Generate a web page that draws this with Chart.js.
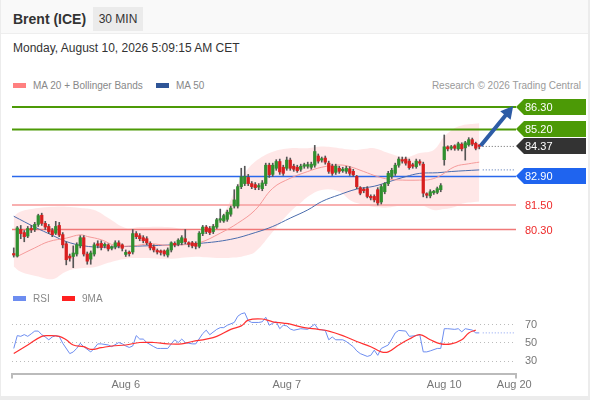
<!DOCTYPE html>
<html>
<head>
<meta charset="utf-8">
<script src="https://cdn.jsdelivr.net/npm/chart.js@4.4.1/dist/chart.umd.min.js"></script>
<style>
  html, body { margin: 0; padding: 0; }
  body { width: 590px; height: 400px; background: #ececec; position: relative; overflow: hidden;
         font-family: 'Liberation Sans', Arial, sans-serif; }
  #card { position: absolute; left: 1px; top: 0; width: 587px; height: 396px; background: #fff; }
  #head { position: absolute; left: 1px; top: 0; width: 587px; height: 33px; background: #f9f9f9; border-bottom: 1px solid #eee; }
  #title { position: absolute; left: 12px; top: 11px; line-height: 16px; font-weight: bold; font-size: 14px; color: #333; }
  #tf { position: absolute; left: 92px; top: 7px; width: 50px; height: 24px; line-height: 24px; text-align: center;
        background: #ebebeb; font-size: 12px; color: #333; }
  #date { position: absolute; left: 13px; top: 41px; line-height: 14px; font-size: 12px; color: #333; }
  .leg { position: absolute; font-size: 10px; line-height: 12px; color: #888; white-space: nowrap; }
  .sw { display: inline-block; width: 13px; height: 5px; margin-right: 7px; position: relative; top: -1px; }
  canvas { position: absolute; left: 0; }
</style>
</head>
<body>
<div id="card"></div>
<div id="head"><span id="title">Brent (ICE)</span><span id="tf">30 MIN</span></div>
<div id="date">Monday, August 10, 2026 5:09:15 AM CET</div>
<div class="leg" style="left:13px; top:80px"><span class="sw" style="background:#ff8080"></span>MA 20 + Bollinger Bands</div>
<div class="leg" style="left:156px; top:80px"><span class="sw" style="background:#2f5597"></span>MA 50</div>
<div class="leg" style="right:9px; top:80px; color:#9a9a9a">Research © 2026 Trading Central</div>
<canvas id="price" width="590" height="190" style="top:95px"></canvas>
<canvas id="rsi" width="590" height="98" style="top:300px"></canvas>
<div class="leg" style="left:13px; top:293px"><span class="sw" style="background:#6d8df0"></span>RSI</div>
<div class="leg" style="left:62px; top:293px"><span class="sw" style="background:#ff2020"></span>9MA</div>

<script>
// 30 min candles, Aug 5 evening .. Aug 10 05:00
const open = [79.12,79.00,80.30,80.15,79.98,80.35,80.30,80.55,81.00,80.60,80.45,80.25,80.12,80.50,80.05,79.60,79.00,78.98,79.10,79.50,
  79.90,79.10,78.85,79.10,79.60,79.62,79.50,79.55,79.38,79.45,79.65,79.55,79.08,79.15,79.20,80.10,80.00,79.90,79.85,79.62,
  79.45,79.25,79.20,79.25,79.05,79.30,79.62,79.58,79.65,79.85,79.65,79.65,79.62,79.48,80.10,80.42,80.35,80.20,80.42,80.76,
  80.72,80.80,81.05,81.45,81.45,82.40,82.55,82.85,82.55,82.50,82.38,82.30,82.55,83.45,83.00,83.30,83.63,83.35,83.30,83.70,
  83.40,83.35,83.25,83.40,83.40,83.35,83.45,83.90,83.70,83.80,83.55,83.40,83.10,83.30,83.18,83.15,83.28,83.15,82.90,82.35,
  82.25,82.30,81.90,81.92,82.25,81.65,82.15,82.55,82.90,83.05,83.45,83.72,83.75,83.65,83.45,83.38,83.62,83.50,82.00,81.95,
  82.10,82.12,82.25,83.72,84.35,84.28,84.40,84.25,84.48,84.30,84.45,84.70,84.52,84.40]
const high = [79.40,80.45,80.50,80.25,80.45,80.50,80.65,81.05,81.10,80.70,80.55,80.35,80.70,80.65,80.15,79.70,79.10,79.50,79.65,80.00,
  80.00,79.20,79.25,79.65,79.75,79.75,79.65,79.60,79.50,79.75,79.75,79.60,79.30,79.25,80.30,80.20,80.10,80.00,79.95,79.70,
  79.55,79.35,79.30,79.30,79.40,79.70,79.70,79.85,80.00,80.30,79.70,79.72,79.70,80.20,80.50,80.50,80.45,80.55,80.85,81.30,
  81.05,81.25,81.45,82.25,82.50,83.30,83.40,83.00,82.65,82.60,82.55,82.70,83.55,83.55,83.55,83.72,83.75,83.45,83.85,83.80,
  83.50,83.45,83.50,83.55,83.60,83.60,84.42,84.00,83.85,83.90,83.65,83.50,83.50,83.40,83.35,83.40,83.38,83.25,82.95,82.40,
  82.35,82.40,82.00,82.00,82.35,82.50,82.60,83.15,83.30,83.55,83.85,83.85,83.85,83.75,83.55,83.75,83.72,83.60,82.10,82.25,
  82.22,82.38,82.55,84.93,84.40,84.42,84.45,84.58,84.55,84.62,84.80,84.78,84.58,84.45]
const low = [78.95,78.95,79.85,79.70,79.90,80.15,80.20,80.45,80.50,80.30,80.10,79.95,80.05,79.95,79.40,78.57,78.75,78.43,79.00,79.40,
  79.00,78.60,78.60,79.00,79.40,79.30,79.40,79.25,79.30,79.35,79.40,79.25,78.98,79.00,79.10,79.85,79.75,79.65,79.55,79.30,
  79.20,79.10,79.05,79.00,78.95,79.20,79.45,79.50,79.55,79.60,79.45,79.40,79.35,79.40,80.00,80.10,80.05,80.10,80.35,80.65,
  80.65,80.70,80.95,81.35,81.35,82.30,82.45,82.45,82.30,82.25,82.25,82.20,82.45,82.85,82.90,83.20,83.00,82.95,83.20,83.20,
  83.15,83.10,83.15,83.30,83.30,83.25,83.35,83.55,83.60,83.50,83.05,82.95,83.00,83.05,83.10,83.05,82.95,82.90,82.30,82.00,
  82.10,81.85,81.75,81.65,81.50,81.55,82.05,82.45,82.80,82.95,83.35,83.55,83.45,83.25,83.30,83.30,83.45,81.90,81.85,81.85,
  82.02,82.05,82.15,83.45,84.15,84.20,84.18,84.18,84.15,83.70,84.38,84.40,84.20,84.25]
const close = [79.05,80.38,80.10,79.95,80.35,80.28,80.55,80.98,80.60,80.42,80.20,80.05,80.45,80.03,79.55,78.82,78.90,79.15,79.55,79.90,
  79.10,78.75,79.15,79.55,79.52,79.42,79.55,79.35,79.42,79.65,79.50,79.38,79.18,79.12,80.10,79.95,79.85,79.75,79.65,79.40,
  79.30,79.20,79.18,79.10,79.30,79.65,79.55,79.78,79.90,79.70,79.58,79.50,79.48,80.12,80.42,80.20,80.15,80.45,80.78,80.82,
  80.98,81.15,81.35,81.75,82.40,82.88,82.90,82.55,82.40,82.35,82.42,82.58,83.45,82.98,83.45,83.63,83.12,83.05,83.70,83.30,
  83.25,83.18,83.40,83.45,83.48,83.50,84.12,83.65,83.75,83.60,83.15,83.05,83.40,83.15,83.22,83.30,83.05,82.98,82.40,82.08,
  82.20,81.92,81.85,81.75,81.60,82.40,82.55,83.05,83.20,83.45,83.75,83.65,83.55,83.33,83.40,83.65,83.55,82.08,81.98,82.15,
  82.14,82.30,82.45,84.35,84.25,84.32,84.28,84.50,84.25,84.55,84.70,84.48,84.28,84.37]

const ma20Idx = [1,6,10,15,19,21,25,29,34,39,44,48,53,59,64,69,74,79,84,88,93,96,100,104,107,111,116,119,122,126,130,133]
const ma20Val = [78.98,79.40,79.71,79.88,80.04,79.96,79.80,79.52,79.50,79.60,79.52,79.55,79.65,80.12,80.61,81.26,82.32,82.81,
  83.14,83.35,83.46,83.38,83.14,82.89,82.77,82.72,82.72,82.75,82.95,83.38,83.52,83.60]
const ma50Idx = [0,6,11,15,20,25,34,44,53,62,69,74,79,84,88,93,98,103,107,112,116,121,125,133]
const ma50Val = [80.95,80.42,80.02,79.71,79.50,79.44,79.48,79.54,79.62,79.82,80.15,80.45,80.86,81.26,81.67,82.00,82.28,82.42,
  82.63,82.89,83.05,83.08,83.14,83.22]
const bbIdx = [0,2,7,11,15,19,23,27,32,36,44,52,55,59,62,64,66,69,74,79,82,84,88,93,96,98,100,103,107,112,116,120,123,126,128,133]
const bbUpper = [80.94,81.18,81.35,81.41,81.42,81.36,81.26,80.87,80.38,80.42,80.42,80.24,80.37,80.87,81.75,82.53,83.06,83.63,
  84.11,84.28,84.28,84.28,84.36,84.28,84.22,84.20,84.24,84.28,84.05,83.85,84.05,84.20,84.85,85.27,85.40,85.50]
const bbLower = [78.49,78.23,78.00,77.87,78.25,78.40,78.45,78.67,78.87,78.90,78.87,78.97,78.94,78.90,78.92,78.94,79.01,79.21,
  80.19,81.17,81.61,81.91,82.24,82.16,81.75,81.60,81.51,81.40,81.38,81.51,81.51,81.26,81.30,81.40,81.56,81.67]

const rsiIdx = [0,1,2,3,4,5,6,7,8,9,10,11,12,13,14,16,17,18,19,20,22,23,24,25,27,28,30,31,32,33,34,35,36,37,38,40,41,42,44,45,46,
  47,48,49,50,51,52,54,55,56,58,59,60,61,63,64,65,66,67,68,70,71,72,73,74,75,76,77,78,79,80,82,84,86,87,89,90,91,92,94,95,97,98,99,
  101,102,103,104,105,107,108,109,110,112,113,115,116,117,118,119,121,122,123,124,126,127,128,129,131,132,133]
const rsiVal = [43.9,58.0,57.2,59.1,57.2,60.0,63.0,63.0,59.0,56.5,53.4,56.5,58.0,57.0,49.6,38.2,40.0,44.0,49.6,45.8,40.0,44.0,
  48.9,48.9,47.7,45.8,50.4,49.0,46.6,45.0,46.6,58.0,54.2,54.2,50.4,45.8,43.9,43.9,43.9,48.9,53.4,50.4,54.2,50.4,49.6,48.9,48.9,
  60.3,64.0,59.0,64.9,66.8,66.8,69.4,72.5,79.3,82.0,83.1,74.4,72.5,72.5,73.2,78.2,69.4,71.7,73.2,65.6,69.4,68.7,65.3,63.9,65.6,
  64.9,70.6,64.9,63.7,53.4,56.5,53.4,53.4,51.5,45.8,41.2,38.2,35.1,36.3,42.0,36.3,43.9,47.7,54.2,61.0,63.7,63.0,57.2,58.0,59.1,
  40.1,40.1,41.2,43.9,43.9,65.6,65.6,64.9,65.6,62.2,65.6,64.1,61.0,61.0]
const rsiMaIdx = [0,4,8,10,13,15,17,20,22,25,28,32,36,40,44,48,51,55,58,62,65,67,71,74,77,79,83,87,90,94,98,102,105,107,110,113,
  116,119,122,125,128,130,132]
const rsiMaVal = [38.2,47.7,57.2,58.0,57.2,53.4,47.7,45.8,42.8,44.7,46.6,47.7,50.4,50.4,48.9,48.9,51.5,54.2,57.2,64.9,68.7,75.1,
  76.3,73.2,71.7,70.6,66.8,64.9,63.0,58.0,51.5,45.8,40.1,40.1,47.7,54.2,59.1,53.4,48.9,48.9,53.4,61.0,64.1]

const levelVal = [86.30, 85.20, 82.90, 81.50, 80.30]
const lastPrice = 84.37
const rsiTicks = [30, 50, 70]
const tickIdx = [32, 78, 123, 143]
const tickText = ['Aug 6', 'Aug 7', 'Aug 10', 'Aug 20']
const arrowFrom = [133.4, 84.40]
const arrowTo = [142.7, 86.35]

const levelStyle = [
  { line: '#4c9a06', width: 2, box: '#4c9a06' },
  { line: '#4c9a06', width: 2, box: '#4c9a06' },
  { line: '#2a68ec', width: 1.5, box: '#1f64ef' },
  { line: '#f8b0b0', width: 2, text: '#ee2a2a' },
  { line: 'rgb(240, 120, 120)', width: 1.5, text: '#ee2a2a' },
]

Chart.defaults.font.family = "'Liberation Sans', Arial, sans-serif"
Chart.defaults.color = '#777'

const xMin = -0.5
const xMax = 143.5
const pt = (idx, val) => idx.map((x, k) => ({ x, y: val[k] }))
const flat = (v) => [{ x: 134, y: v }, { x: 143.3, y: v }]
const lineDefaults = { type: 'line', pointRadius: 0, fill: false }

// price labels on the right, pointed boxes
const levelLabels = {
  id: 'levelLabels',
  afterDraw(chart) {
    const { ctx, chartArea, scales: { y } } = chart
    const items = levelVal.map((v, k) => ({ v, ...levelStyle[k] }))
    items.splice(2, 0, { v: lastPrice, box: '#333333' })
    ctx.save()
    ctx.font = "11px 'Liberation Sans', Arial, sans-serif"
    ctx.textBaseline = 'middle'
    items.forEach((it) => {
      const py = Math.round(y.getPixelForValue(it.v))
      const x0 = chartArea.right
      if (it.box) {
        ctx.fillStyle = it.box
        ctx.beginPath()
        ctx.moveTo(x0, py)
        ctx.lineTo(x0 + 8, py - 8)
        ctx.lineTo(x0 + 70, py - 8)
        ctx.lineTo(x0 + 70, py + 8)
        ctx.lineTo(x0 + 8, py + 8)
        ctx.closePath()
        ctx.fill()
        ctx.fillStyle = '#fff'
      } else {
        ctx.fillStyle = it.text
      }
      ctx.fillText(it.v.toFixed(2), x0 + 9, py + 0.5)
    })
    ctx.restore()
  },
}

// blue target arrow
const arrowPlugin = {
  id: 'arrow',
  afterDatasetsDraw(chart) {
    const { ctx, scales: { x, y } } = chart
    const x1 = x.getPixelForValue(arrowFrom[0])
    const y1 = y.getPixelForValue(arrowFrom[1])
    const x2 = x.getPixelForValue(arrowTo[0])
    const y2 = y.getPixelForValue(arrowTo[1])
    const a = Math.atan2(y2 - y1, x2 - x1)
    const head = 14
    ctx.save()
    ctx.strokeStyle = ctx.fillStyle = '#2d5ca6'
    ctx.lineWidth = 4
    ctx.beginPath()
    ctx.moveTo(x1, y1)
    ctx.lineTo(x2 - head * 0.8 * Math.cos(a), y2 - head * 0.8 * Math.sin(a))
    ctx.stroke()
    ctx.beginPath()
    ctx.moveTo(x2, y2)
    ctx.lineTo(x2 - head * Math.cos(a - 0.5), y2 - head * Math.sin(a - 0.5))
    ctx.lineTo(x2 - head * Math.cos(a + 0.5), y2 - head * Math.sin(a + 0.5))
    ctx.closePath()
    ctx.fill()
    ctx.restore()
  },
}

// little end ticks on the time axis
const axisEnds = {
  id: 'axisEnds',
  afterDraw(chart) {
    const { ctx, chartArea: a } = chart
    ctx.save()
    ctx.strokeStyle = '#bbb'
    ctx.lineWidth = 2
    ctx.beginPath()
    ;[a.left, a.right].forEach((px) => {
      ctx.moveTo(px, a.bottom)
      ctx.lineTo(px, a.bottom + 5)
    })
    ctx.stroke()
    ctx.restore()
  },
}

new Chart(document.getElementById('price'), {
  type: 'bar',
  data: {
    datasets: [
      {
        label: 'body',
        data: open.map((o, i) => ({ x: i, y: [o, close[i]] })),
        backgroundColor: open.map((o, i) => (close[i] >= o ? '#2f8f2f' : '#d81f1f')),
        barThickness: 2.6, maxBarThickness: 2.6, minBarLength: 1.5, grouped: false, order: 0,
      },
      {
        label: 'wick',
        data: low.map((l, i) => ({ x: i, y: [l, high[i]] })),
        backgroundColor: '#555',
        barThickness: 1, maxBarThickness: 1, grouped: false, order: 1,
      },
      { ...lineDefaults, label: 'MA 20', data: pt(ma20Idx, ma20Val), borderColor: '#f59a9a', borderWidth: 1, tension: 0.4, order: 2 },
      { ...lineDefaults, label: 'MA 50', data: pt(ma50Idx, ma50Val), borderColor: '#4a6cad', borderWidth: 1, tension: 0.4, order: 2 },
      { ...lineDefaults, label: 'last', data: flat(lastPrice), borderColor: '#666', borderWidth: 1, borderDash: [1, 2], order: 3 },
      { ...lineDefaults, label: 'ma50 ext', data: flat(ma50Val[ma50Val.length - 1]), borderColor: '#4a6cad', borderWidth: 1, borderDash: [1, 2], order: 3 },
      ...levelVal.map((v, k) => ({
        ...lineDefaults,
        label: 'level ' + v,
        data: [{ x: xMin, y: v }, { x: xMax, y: v }],
        borderColor: levelStyle[k].line,
        borderWidth: levelStyle[k].width,
        order: 4,
      })),
      { ...lineDefaults, label: 'BB up', data: pt(bbIdx, bbUpper), borderColor: 'transparent', borderWidth: 0, tension: 0.4, order: 5 },
      {
        ...lineDefaults, label: 'BB low', data: pt(bbIdx, bbLower), borderColor: 'transparent', borderWidth: 0, tension: 0.4,
        fill: '-1', backgroundColor: 'rgba(255, 60, 60, 0.12)', order: 5,
      },
    ],
  },
  options: {
    responsive: false,
    animation: false,
    events: [],
    layout: { padding: { left: 12, right: 74, top: 0, bottom: 0 } },
    plugins: { legend: { display: false }, tooltip: { enabled: false } },
    scales: {
      x: { type: 'linear', min: xMin, max: xMax, offset: false, display: false },
      y: { min: 77.583, max: 86.888, display: false },
    },
  },
  plugins: [levelLabels, arrowPlugin],
})

new Chart(document.getElementById('rsi'), {
  type: 'line',
  data: {
    datasets: [
      { ...lineDefaults, label: '9MA', data: pt(rsiMaIdx, rsiMaVal), borderColor: '#ff3030', borderWidth: 1.2, tension: 0.4 },
      { ...lineDefaults, label: 'RSI', data: pt(rsiIdx, rsiVal), borderColor: '#6d8df0', borderWidth: 1 },
      { ...lineDefaults, label: 'RSI ext', data: flat(rsiVal[rsiVal.length - 1]), borderColor: '#8aa2f2', borderWidth: 1, borderDash: [1, 2] },
    ],
  },
  options: {
    responsive: false,
    animation: false,
    events: [],
    layout: { padding: { left: 12, right: 0, top: 0, bottom: 1.3 } },
    plugins: { legend: { display: false }, tooltip: { enabled: false } },
    scales: {
      x: {
        type: 'linear', min: xMin, max: xMax, offset: false,
        grid: { display: false, drawTicks: false },
        border: { display: true, color: '#bbb', width: 2 },
        afterBuildTicks: (s) => { s.ticks = tickIdx.map((value) => ({ value })) },
        ticks: {
          autoSkip: false, maxRotation: 0, padding: 5, color: '#777', font: { size: 11 },
          callback: (v) => tickText[tickIdx.indexOf(v)] ?? '',
        },
      },
      y: {
        position: 'right', min: 16.3, max: 97.2,
        afterFit: (s) => {
          s.width = 74
          s.paddingTop = 0
          s.paddingBottom = 0
        },
        afterBuildTicks: (s) => { s.ticks = rsiTicks.map((value) => ({ value })) },
        grid: { color: '#bbb', drawTicks: false },
        border: { display: false, dash: [1, 3] },
        ticks: { padding: 9, color: '#777', font: { size: 11 } },
      },
    },
  },
  plugins: [axisEnds],
})
</script>
</body>
</html>
